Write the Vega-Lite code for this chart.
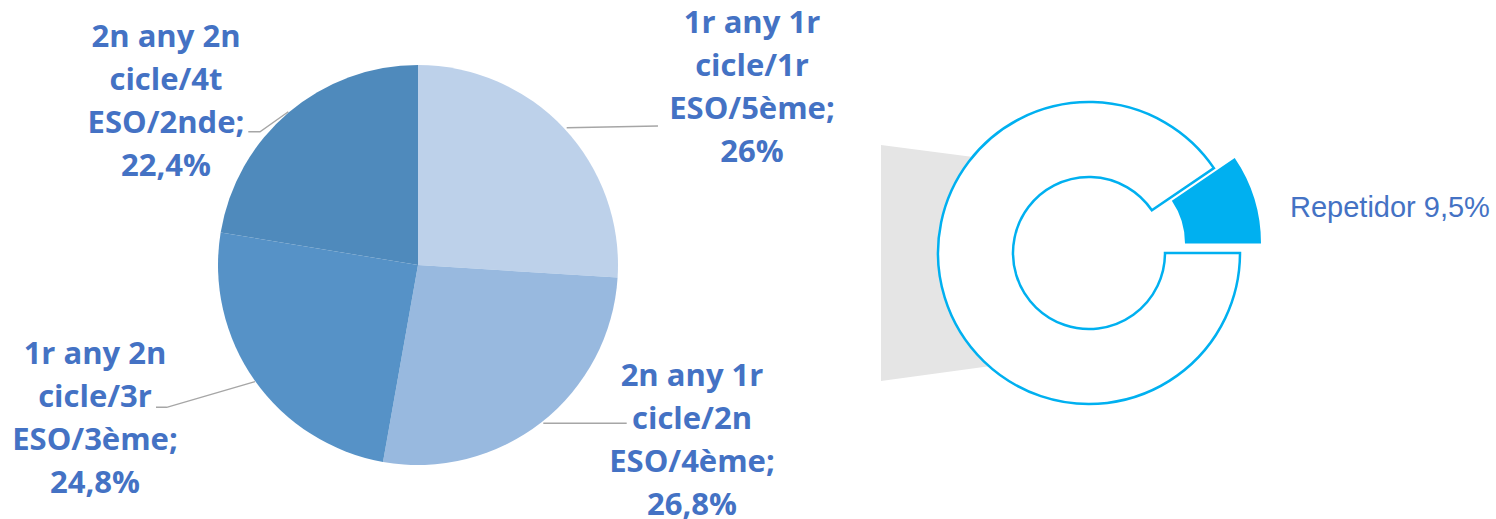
{
  "$schema": "https://vega.github.io/schema/vega-lite/v6.json",
  "padding": {"left": 0, "top": 11, "right": 0, "bottom": 0},
  "spacing": 0,
  "bounds": "flush",
  "background": "white",
  "config": {"view": {"stroke": null}},
  "datasets": {
    "school": [
      {"n": 1, "curs": "1r any 1r cicle/1r ESO/5ème", "pct": 26.0, "label": "1r any 1r\ncicle/1r\nESO/5ème;\n26%"},
      {"n": 2, "curs": "2n any 1r cicle/2n ESO/4ème", "pct": 26.8, "label": "2n any 1r\ncicle/2n\nESO/4ème;\n26,8%"},
      {"n": 3, "curs": "1r any 2n cicle/3r ESO/3ème", "pct": 24.8, "label": "1r any 2n\ncicle/3r\nESO/3ème;\n24,8%"},
      {"n": 4, "curs": "2n any 2n cicle/4t ESO/2nde", "pct": 22.4, "label": "2n any 2n\ncicle/4t\nESO/2nde;\n22,4%"}
    ],
    "situacio": [
      {"n": 1, "tipus": "Repetidor", "pct": 9.5, "label": "Repetidor 9,5%"},
      {"n": 2, "tipus": "No repetidor", "pct": 90.5, "label": ""}
    ],
    "guies": [
      {"g": 1, "o": 1, "x": 566.7, "y": 116.7},
      {"g": 1, "o": 2, "x": 658, "y": 115},
      {"g": 2, "o": 1, "x": 543.3, "y": 412.3},
      {"g": 2, "o": 2, "x": 626.7, "y": 412.3},
      {"g": 3, "o": 1, "x": 255, "y": 370.7},
      {"g": 3, "o": 2, "x": 166.7, "y": 396.3},
      {"g": 3, "o": 3, "x": 156, "y": 396.3},
      {"g": 4, "o": 1, "x": 288.3, "y": 100.7},
      {"g": 4, "o": 2, "x": 260, "y": 120.7},
      {"g": 4, "o": 3, "x": 248.3, "y": 120.7}
    ],
    "connector": [
      {"x": 45, "y1": 134, "y2": 370},
      {"x": 164, "y1": 149.6, "y2": 353.7}
    ]
  },
  "hconcat": [
    {
      "width": 836,
      "height": 508,
      "layer": [
        {
          "data": {"name": "guies"},
          "mark": {"type": "line", "stroke": "#A6A6A6", "strokeWidth": 1.4},
          "encoding": {
            "x": {"field": "x", "type": "quantitative", "scale": {"domain": [0, 836], "nice": false, "zero": false}, "axis": null},
            "y": {"field": "y", "type": "quantitative", "scale": {"domain": [0, 508], "nice": false, "zero": false, "reverse": true}, "axis": null},
            "detail": {"field": "g", "type": "nominal"},
            "order": {"field": "o", "type": "quantitative"}
          }
        },
        {
          "data": {"name": "school"},
          "mark": {"type": "arc", "outerRadius": 200},
          "encoding": {
            "theta": {"field": "pct", "type": "quantitative", "stack": true},
            "order": {"field": "n", "type": "quantitative"},
            "color": {
              "field": "curs", "type": "nominal", "legend": null,
              "scale": {
                "domain": ["1r any 1r cicle/1r ESO/5ème", "2n any 1r cicle/2n ESO/4ème", "1r any 2n cicle/3r ESO/3ème", "2n any 2n cicle/4t ESO/2nde"],
                "range": ["#BDD1EA", "#98B9DF", "#5692C7", "#4F8ABC"]
              }
            }
          }
        },
        {
          "data": {"name": "school"},
          "transform": [{"filter": "datum.n === 1"}],
          "mark": {"type": "text", "clip": true, "lineBreak": "\n", "align": "center", "baseline": "alphabetic", "dx": 334, "dy": -231.7, "font": "Open Sans", "fontWeight": "bold", "fontSize": 31, "lineHeight": 43, "fill": "#4472C4"},
          "encoding": {"text": {"field": "label", "type": "nominal"}}
        },
        {
          "data": {"name": "school"},
          "transform": [{"filter": "datum.n === 2"}],
          "mark": {"type": "text", "clip": true, "lineBreak": "\n", "align": "center", "baseline": "alphabetic", "dx": 274, "dy": 121, "font": "Open Sans", "fontWeight": "bold", "fontSize": 31, "lineHeight": 43, "fill": "#4472C4"},
          "encoding": {"text": {"field": "label", "type": "nominal"}}
        },
        {
          "data": {"name": "school"},
          "transform": [{"filter": "datum.n === 3"}],
          "mark": {"type": "text", "clip": true, "lineBreak": "\n", "align": "center", "baseline": "alphabetic", "dx": -323, "dy": 99.3, "font": "Open Sans", "fontWeight": "bold", "fontSize": 31, "lineHeight": 43, "fill": "#4472C4"},
          "encoding": {"text": {"field": "label", "type": "nominal"}}
        },
        {
          "data": {"name": "school"},
          "transform": [{"filter": "datum.n === 4"}],
          "mark": {"type": "text", "clip": true, "lineBreak": "\n", "align": "center", "baseline": "alphabetic", "dx": -252, "dy": -218.3, "font": "Open Sans", "fontWeight": "bold", "fontSize": 31, "lineHeight": 43, "fill": "#4472C4"},
          "encoding": {"text": {"field": "label", "type": "nominal"}}
        }
      ]
    },
    {
      "width": 506,
      "height": 484,
      "layer": [
        {
          "data": {"name": "connector"},
          "mark": {"type": "area", "fill": "#E5E5E5", "orient": "vertical"},
          "encoding": {
            "x": {"field": "x", "type": "quantitative", "scale": {"domain": [0, 506], "nice": false, "zero": false}, "axis": null},
            "y": {"field": "y1", "type": "quantitative", "scale": {"domain": [0, 484], "nice": false, "zero": false, "reverse": true}, "axis": null},
            "y2": {"field": "y2"}
          }
        },
        {
          "data": {"name": "situacio"},
          "transform": [
            {"stack": "pct", "groupby": [], "sort": [{"field": "n", "order": "ascending"}], "as": ["v0", "v1"]},
            {"filter": "datum.n === 2"}
          ],
          "mark": {"type": "arc", "innerRadius": 76, "outerRadius": 151, "fill": "white", "stroke": "#00B0F0", "strokeWidth": 2.5},
          "encoding": {
            "theta": {"field": "v0", "type": "quantitative", "stack": null, "scale": {"domain": [0, 100], "range": [0.9739, 7.2571]}},
            "theta2": {"field": "v1"}
          }
        },
        {
          "data": {"name": "situacio"},
          "transform": [
            {"stack": "pct", "groupby": [], "sort": [{"field": "n", "order": "ascending"}], "as": ["v0", "v1"]},
            {"filter": "datum.n === 1"}
          ],
          "mark": {"type": "arc", "innerRadius": 76, "outerRadius": 152, "fill": "#00B0F0", "xOffset": 20, "yOffset": -9.5},
          "encoding": {
            "theta": {"field": "v0", "type": "quantitative", "stack": null, "scale": {"domain": [0, 100], "range": [0.9739, 7.2571]}},
            "theta2": {"field": "v1"}
          }
        },
        {
          "data": {"name": "situacio"},
          "transform": [{"filter": "datum.n === 1"}],
          "mark": {"type": "text", "align": "left", "baseline": "alphabetic", "dx": 201, "dy": -36.3, "font": "Liberation Sans", "fontSize": 29, "fill": "#4472C4"},
          "encoding": {"text": {"field": "label", "type": "nominal"}}
        }
      ]
    }
  ]
}
